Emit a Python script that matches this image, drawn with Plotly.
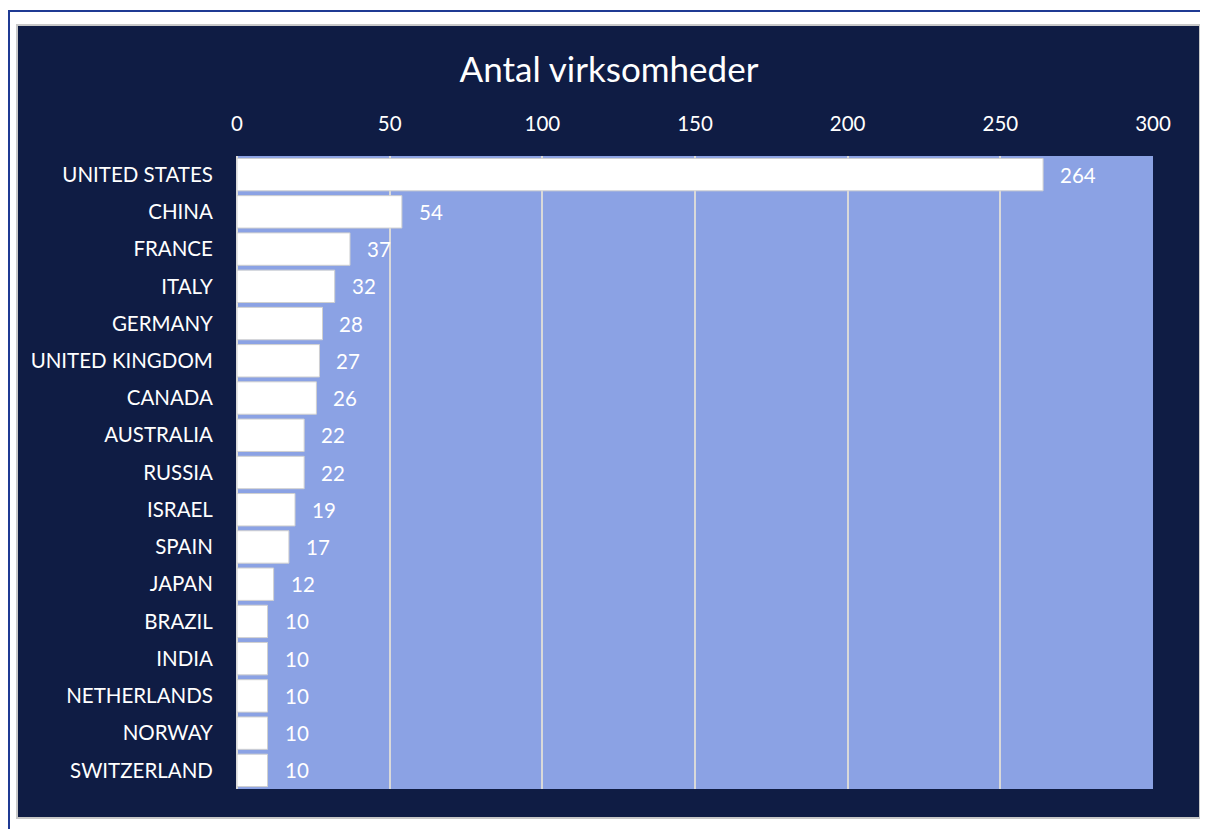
import plotly.graph_objects as go

countries = ["UNITED STATES", "CHINA", "FRANCE", "ITALY", "GERMANY", "UNITED KINGDOM",
             "CANADA", "AUSTRALIA", "RUSSIA", "ISRAEL", "SPAIN", "JAPAN", "BRAZIL",
             "INDIA", "NETHERLANDS", "NORWAY", "SWITZERLAND"]
values = [264, 54, 37, 32, 28, 27, 26, 22, 22, 19, 17, 12, 10, 10, 10, 10, 10]
x_ticks = [0, 50, 100, 150, 200, 250, 300]
title_text = "Antal virksomheder"

# page is rendered with an 8px body offset; figure coordinates compensate for it
OFF = 8
W, H = 1208, 829
L, R, T, B = 237 - OFF, 1208 - (1153 - OFF), 156 - OFF, 829 - (789 - OFF)
pw, ph = W - L - R, H - T - B

def px(x):
    return (x - OFF - L) / pw

def py(y):
    return (H - B - (y - OFF)) / ph

NAVY = "#0F1C44"
PLOTBG = "#8BA2E4"
GRID = "#D9D9D9"
FONT = "Lato, 'Open Sans', sans-serif"

fig = go.Figure()
fig.add_trace(go.Bar(
    x=values, y=countries, orientation="h",
    marker=dict(color="white", line=dict(color="#D0D0D0", width=1)),
    hoverinfo="x+y",
))

for c, v in zip(countries, values):
    fig.add_annotation(x=v, y=c, text=str(v), showarrow=False, xanchor="left",
                       xshift=15, font=dict(color="white", size=20.5, family=FONT))

shapes = [
    # outer blue border line
    dict(type="rect", xref="paper", yref="paper", x0=px(9), x1=px(1240), y0=py(11), y1=py(860),
         line=dict(color="#1F3A93", width=2), fillcolor="rgba(0,0,0,0)", layer="below"),
    # navy chart area
    dict(type="rect", xref="paper", yref="paper", x0=px(17), x1=px(1200), y0=py(25), y1=py(818),
         line=dict(color="#C8C8C8", width=2), fillcolor=NAVY, layer="below"),
    # plot area background
    dict(type="rect", xref="paper", yref="paper", x0=0, x1=1, y0=0, y1=1,
         line=dict(width=0), fillcolor=PLOTBG, layer="below"),
]

fig.update_layout(
    width=W, height=H,
    margin=dict(l=L, r=R, t=T, b=B, pad=0),
    paper_bgcolor="white",
    plot_bgcolor="rgba(0,0,0,0)",
    shapes=shapes,
    bargap=0.13,
    showlegend=False,
    font=dict(family=FONT, color="white"),
    title=dict(text=title_text, x=(609 - OFF) / W, xref="container", xanchor="center",
               y=1 - (70 - OFF) / H, yref="container", yanchor="middle",
               font=dict(size=35, color="white", family=FONT)),
    xaxis=dict(side="top", range=[0, 300], tickvals=x_ticks, ticktext=[str(t) for t in x_ticks],
               showgrid=True, gridcolor=GRID, gridwidth=2,
               zeroline=True, zerolinecolor=GRID, zerolinewidth=2,
               ticks="outside", ticklen=16, tickcolor="rgba(0,0,0,0)",
               tickfont=dict(size=20.5, color="white", family=FONT), fixedrange=True),
    yaxis=dict(autorange="reversed", showgrid=False, zeroline=False,
               ticks="outside", ticklen=19, tickcolor="rgba(0,0,0,0)",
               tickfont=dict(size=20.5, color="white", family=FONT), fixedrange=True),
)

fig.write_html("out.html")
